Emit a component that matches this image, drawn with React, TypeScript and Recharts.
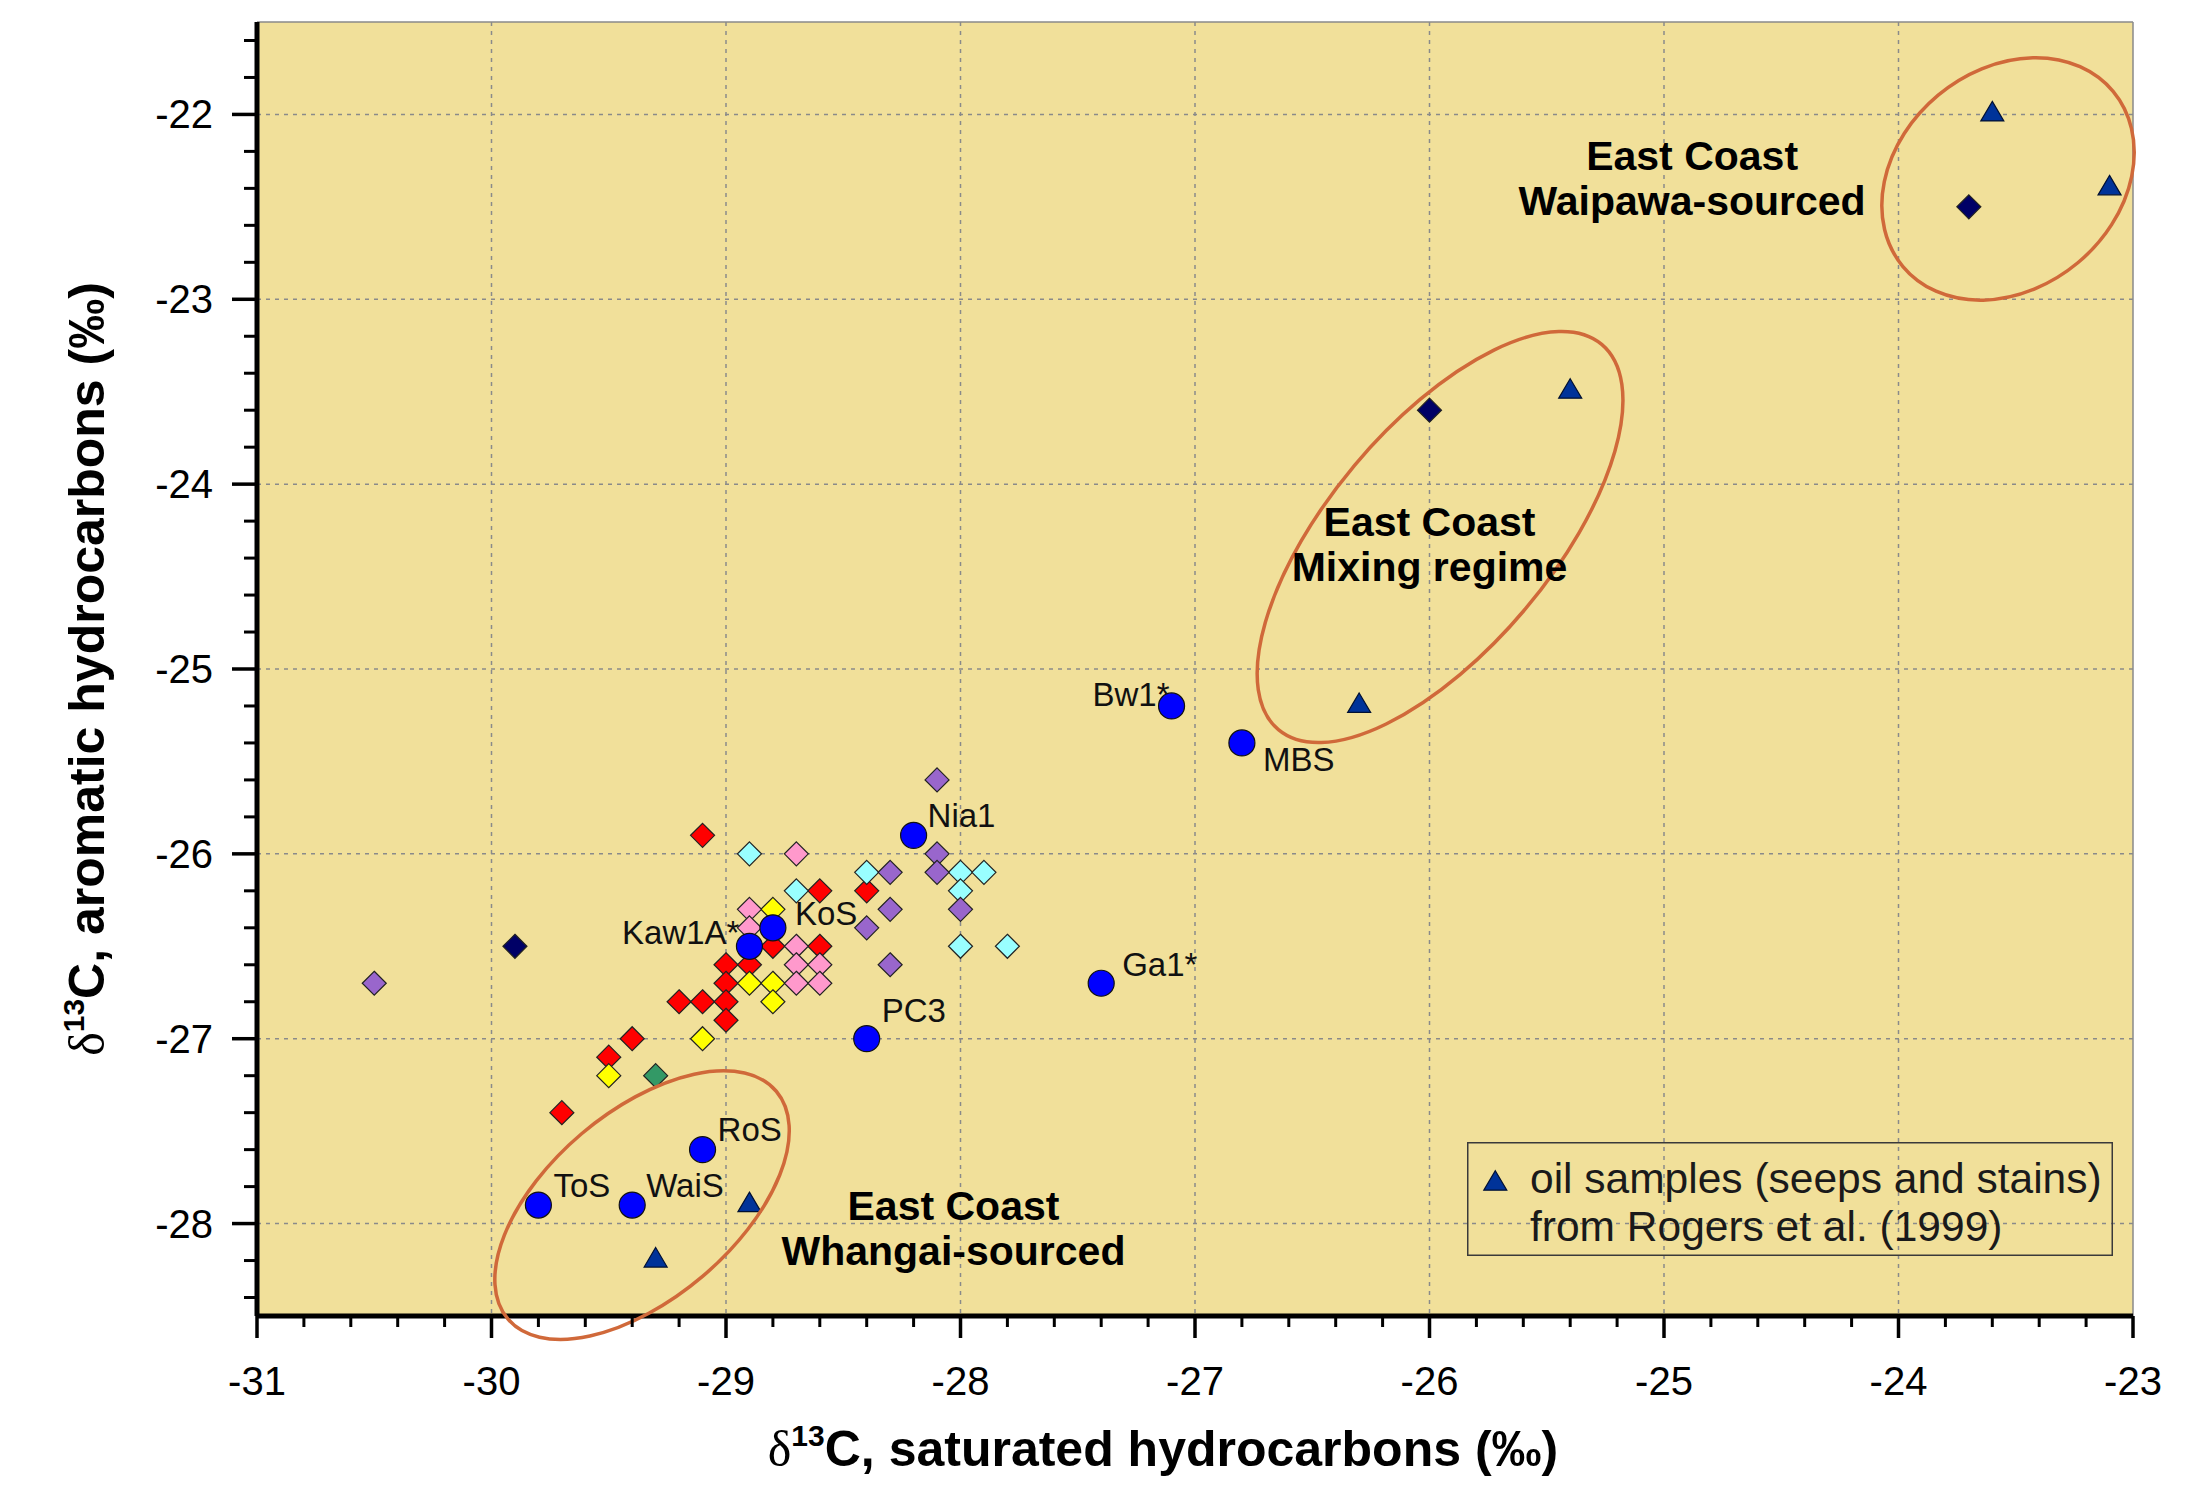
import {
  ScatterChart,
  Scatter,
  XAxis,
  YAxis,
  CartesianGrid,
  ReferenceLine,
  ReferenceDot,
  Legend,
} from "recharts";

type Pt = { x: number; y: number };
type Named = Pt & { name: string };

// axis ticks
const gridX = [-30, -29, -28, -27, -26, -25, -24];
const gridY = [-28, -27, -26, -25, -24, -23, -22];
const xTicks: number[] = [];
for (let i = 0; i <= 40; i++) xTicks.push(Math.round((-31 + i * 0.2) * 10) / 10);
const yTicks: number[] = [];
for (let i = 0; i <= 34; i++) yTicks.push(Math.round((-28.4 + i * 0.2) * 10) / 10);

// sample groups (sat, aro)
const redSamples: Pt[] = [
  { x: -29.1, y: -25.9 }, { x: -28.6, y: -26.2 }, { x: -28.4, y: -26.2 },
  { x: -28.8, y: -26.5 }, { x: -28.6, y: -26.5 }, { x: -29.0, y: -26.6 },
  { x: -28.9, y: -26.6 }, { x: -29.0, y: -26.7 }, { x: -29.2, y: -26.8 },
  { x: -29.1, y: -26.8 }, { x: -29.0, y: -26.8 }, { x: -29.0, y: -26.9 },
  { x: -29.4, y: -27.0 }, { x: -29.5, y: -27.1 }, { x: -29.7, y: -27.4 },
];
const yellowSamples: Pt[] = [
  { x: -28.8, y: -26.3 }, { x: -28.9, y: -26.7 }, { x: -28.8, y: -26.7 },
  { x: -28.8, y: -26.8 }, { x: -29.1, y: -27.0 }, { x: -29.5, y: -27.2 },
];
const pinkSamples: Pt[] = [
  { x: -28.7, y: -26.0 }, { x: -28.9, y: -26.3 }, { x: -28.9, y: -26.4 },
  { x: -28.7, y: -26.5 }, { x: -28.7, y: -26.6 }, { x: -28.6, y: -26.6 },
  { x: -28.7, y: -26.7 }, { x: -28.6, y: -26.7 },
];
const cyanSamples: Pt[] = [
  { x: -28.9, y: -26.0 }, { x: -28.4, y: -26.1 }, { x: -28.0, y: -26.1 },
  { x: -27.9, y: -26.1 }, { x: -28.7, y: -26.2 }, { x: -28.0, y: -26.2 },
  { x: -28.0, y: -26.5 }, { x: -27.8, y: -26.5 },
];
const purpleSamples: Pt[] = [
  { x: -30.5, y: -26.7 }, { x: -28.1, y: -25.6 }, { x: -28.1, y: -26.0 },
  { x: -28.3, y: -26.1 }, { x: -28.1, y: -26.1 }, { x: -28.3, y: -26.3 },
  { x: -28.0, y: -26.3 }, { x: -28.4, y: -26.4 }, { x: -28.3, y: -26.6 },
];
const navySamples: Pt[] = [
  { x: -23.7, y: -22.5 }, { x: -26.0, y: -23.6 }, { x: -29.9, y: -26.5 },
];
const greenSamples: Pt[] = [{ x: -29.3, y: -27.2 }];

const namedWells: Named[] = [
  { name: "Bw1*", x: -27.1, y: -25.2 },
  { name: "MBS", x: -26.8, y: -25.4 },
  { name: "Nia1", x: -28.2, y: -25.9 },
  { name: "KoS", x: -28.8, y: -26.4 },
  { name: "Kaw1A*", x: -28.9, y: -26.5 },
  { name: "Ga1*", x: -27.4, y: -26.7 },
  { name: "PC3", x: -28.4, y: -27.0 },
  { name: "RoS", x: -29.1, y: -27.6 },
  { name: "ToS", x: -29.8, y: -27.9 },
  { name: "WaiS", x: -29.4, y: -27.9 },
];

const oilSamples: Pt[] = [
  { x: -23.6, y: -22.0 }, { x: -23.1, y: -22.4 }, { x: -25.4, y: -23.5 },
  { x: -26.3, y: -25.2 }, { x: -28.9, y: -27.9 }, { x: -29.3, y: -28.2 },
];

// group outlines and their titles
const groupNames = [
  { x: -26.0, y: -24.28, lines: ["East Coast", "Mixing regime"] },
  { x: -28.03, y: -27.98, lines: ["East Coast", "Whangai-sourced"] },
  { x: -24.88, y: -22.3, lines: ["East Coast", "Waipawa-sourced"] },
];
const outlines = [
  { x: -29.358, y: -27.9 },
  { x: -25.955, y: -24.286 },
  { x: -23.533, y: -22.349 },
];
const outlineStyle = [
  { rx: 176, ry: 93.5, rot: -40.3 },
  { rx: 251.5, ry: 111.6, rot: -50 },
  { rx: 136.8, ry: 109.1, rot: -39.8 },
];

// label placement for the named wells (pixel offsets)
const labelPos: Record<string, { dx: number; dy: number; anchor: "start" | "end" }> = {
  "Bw1*": { dx: -2, dy: 0, anchor: "end" },
  MBS: { dx: 21, dy: 28, anchor: "start" },
  Nia1: { dx: 14, dy: -8, anchor: "start" },
  KoS: { dx: 22, dy: -3, anchor: "start" },
  "Kaw1A*": { dx: -10, dy: -2, anchor: "end" },
  "Ga1*": { dx: 21, dy: -7, anchor: "start" },
  PC3: { dx: 15, dy: -17, anchor: "start" },
  RoS: { dx: 15, dy: -9, anchor: "start" },
  ToS: { dx: 15, dy: -8, anchor: "start" },
  WaiS: { dx: 14, dy: -8, anchor: "start" },
};

const FONT = '"Liberation Sans", Arial, Helvetica, sans-serif';
const BG = "#F1E09A";

const diamond = (fill: string) => (p: any) => {
  const { cx, cy } = p;
  const r = 12;
  return (
    <path
      d={`M${cx},${cy - r}L${cx + r},${cy}L${cx},${cy + r}L${cx - r},${cy}Z`}
      fill={fill}
      stroke="#222"
      strokeWidth={1.2}
    />
  );
};

const triPath = (cx: number, cy: number) =>
  `M${cx},${cy - 13}L${cx + 11.5},${cy + 6.5}L${cx - 11.5},${cy + 6.5}Z`;

const triangle = (p: any) => (
  <path d={triPath(p.cx, p.cy)} fill="#003399" stroke="#001033" strokeWidth={1.2} />
);

const wellDot = (p: any) => {
  const { cx, cy, payload } = p;
  const pos = labelPos[payload.name] || { dx: 14, dy: -8, anchor: "start" };
  return (
    <g>
      <circle cx={cx} cy={cy} r={13} fill="#0000FF" stroke="#111" strokeWidth={1.2} />
      <text
        x={cx + pos.dx}
        y={cy + pos.dy}
        textAnchor={pos.anchor}
        fontFamily={FONT}
        fontSize={33}
        fill="#111"
      >
        {payload.name}
      </text>
    </g>
  );
};

const XTick = (props: any) => {
  const { x, y, payload } = props;
  const v = payload.value;
  const major = Math.abs(v - Math.round(v)) < 1e-6;
  return (
    <g>
      <line x1={x} x2={x} y1={y} y2={y + (major ? 22 : 11)} stroke="#000" strokeWidth={major ? 3.5 : 3} />
      {major && (
        <text x={x} y={y + 79} textAnchor="middle" fontFamily={FONT} fontSize={40} fill="#000">
          {v}
        </text>
      )}
    </g>
  );
};

const YTick = (props: any) => {
  const { x, y, payload } = props;
  const v = payload.value;
  const major = Math.abs(v - Math.round(v)) < 1e-6;
  return (
    <g>
      <line x1={x} x2={x - (major ? 25 : 13)} y1={y} y2={y} stroke="#000" strokeWidth={major ? 3.5 : 3} />
      {major && (
        <text x={x - 44} y={y + 14} textAnchor="end" fontFamily={FONT} fontSize={40} fill="#000">
          {v}
        </text>
      )}
    </g>
  );
};

const XTitle = (props: any) => {
  const vb = props.viewBox || { x: 257, y: 1316, width: 1876 };
  const cx = vb.x + vb.width / 2 - 32;
  return (
    <text x={cx} y={vb.y + 150} textAnchor="middle" fontFamily={FONT} fontWeight="bold" fontSize={50} fill="#000">
      <tspan fontFamily='"Liberation Serif", serif' fontWeight="normal">δ</tspan>
      <tspan fontSize={30} dy={-20}>13</tspan>
      <tspan dy={20}>C, saturated hydrocarbons (‰)</tspan>
    </text>
  );
};

const YTitle = (props: any) => {
  const vb = props.viewBox || { x: 0, y: 22, height: 1294 };
  const cy = vb.y + vb.height / 2;
  const x = 104;
  return (
    <text
      x={x}
      y={cy}
      transform={`rotate(-90, ${x}, ${cy})`}
      textAnchor="middle"
      fontFamily={FONT}
      fontWeight="bold"
      fontSize={50}
      fill="#000"
    >
      <tspan fontFamily='"Liberation Serif", serif' fontWeight="normal">δ</tspan>
      <tspan fontSize={30} dy={-20}>13</tspan>
      <tspan dy={20}>C, aromatic hydrocarbons (‰)</tspan>
    </text>
  );
};

const LegendBox = () => (
  <svg width={646} height={114} style={{ display: "block" }}>
    <rect x={0.75} y={0.75} width={644.5} height={112.5} fill="none" stroke="#3a3a3a" strokeWidth={1.5} />
    <path d={triPath(28.3, 41.7)} fill="#003399" stroke="#001033" strokeWidth={1.2} />
    <text x={63} y={51} fontFamily={FONT} fontSize={42.5} fill="#1a1a1a">
      oil samples (seeps and stains)
    </text>
    <text x={63} y={99} fontFamily={FONT} fontSize={42.5} fill="#1a1a1a">
      from Rogers et al. (1999)
    </text>
  </svg>
);

export default function App() {
  return (
    <div style={{ position: "absolute", left: 0, top: 0, background: "#fff" }}>
      <ScatterChart width={2205} height={1488} margin={{ top: 22, right: 72, bottom: 0, left: 0 }}>
        <CartesianGrid
          fill={BG}
          fillOpacity={1}
          stroke="#8a8a8a"
          strokeWidth={1.5}
          strokeDasharray="4 5"
          verticalValues={gridX}
          horizontalValues={gridY}
        />
        <XAxis
          type="number"
          dataKey="x"
          domain={[-31, -23]}
          ticks={xTicks}
          interval={0}
          allowDataOverflow
          height={172}
          tickSize={0}
          tickMargin={0}
          tickLine={false}
          tick={<XTick />}
          axisLine={{ stroke: "#000", strokeWidth: 5 }}
          label={XTitle}
        />
        <YAxis
          type="number"
          dataKey="y"
          domain={[-28.5, -21.5]}
          ticks={yTicks}
          interval={0}
          allowDataOverflow
          width={257}
          tickSize={0}
          tickMargin={0}
          tickLine={false}
          tick={<YTick />}
          axisLine={{ stroke: "#000", strokeWidth: 5 }}
          label={YTitle}
        />
        <ReferenceLine x={-23} stroke="#8a8a8a" strokeWidth={1.5} />
        <ReferenceLine y={-21.5} stroke="#8a8a8a" strokeWidth={1.5} />

        <Scatter data={redSamples} shape={diamond("#FF0000")} legendType="none" isAnimationActive={false} />
        <Scatter data={yellowSamples} shape={diamond("#FFFF00")} legendType="none" isAnimationActive={false} />
        <Scatter data={pinkSamples} shape={diamond("#FF99CC")} legendType="none" isAnimationActive={false} />
        <Scatter data={cyanSamples} shape={diamond("#99FFFF")} legendType="none" isAnimationActive={false} />
        <Scatter data={purpleSamples} shape={diamond("#9966CC")} legendType="none" isAnimationActive={false} />
        <Scatter data={navySamples} shape={diamond("#000066")} legendType="none" isAnimationActive={false} />
        <Scatter data={greenSamples} shape={diamond("#339966")} legendType="none" isAnimationActive={false} />
        <Scatter data={namedWells} shape={wellDot} legendType="none" isAnimationActive={false} />
        <Scatter
          name="oil samples (seeps and stains) from Rogers et al. (1999)"
          data={oilSamples}
          shape={triangle}
          isAnimationActive={false}
        />

        {outlines.map((o, i) => (
          <ReferenceDot
            key={"ol" + i}
            x={o.x}
            y={o.y}
            shape={(p: any) => (
              <ellipse
                cx={p.cx}
                cy={p.cy}
                rx={outlineStyle[i].rx}
                ry={outlineStyle[i].ry}
                transform={`rotate(${outlineStyle[i].rot}, ${p.cx}, ${p.cy})`}
                fill="none"
                stroke="#D0693A"
                strokeWidth={3.5}
              />
            )}
          />
        ))}
        {groupNames.map((g, i) => (
          <ReferenceDot
            key={"gn" + i}
            x={g.x}
            y={g.y}
            shape={(p: any) => (
              <text textAnchor="middle" fontFamily={FONT} fontWeight="bold" fontSize={41} fill="#000">
                {g.lines.map((l, j) => (
                  <tspan key={j} x={p.cx} y={p.cy + j * 45}>
                    {l}
                  </tspan>
                ))}
              </text>
            )}
          />
        ))}
        <Legend
          layout="horizontal"
          verticalAlign="middle"
          align="center"
          content={() => <LegendBox />}
          wrapperStyle={{ left: 1467, top: 1142, width: 646, height: 114, lineHeight: 0 }}
        />
      </ScatterChart>
    </div>
  );
}
